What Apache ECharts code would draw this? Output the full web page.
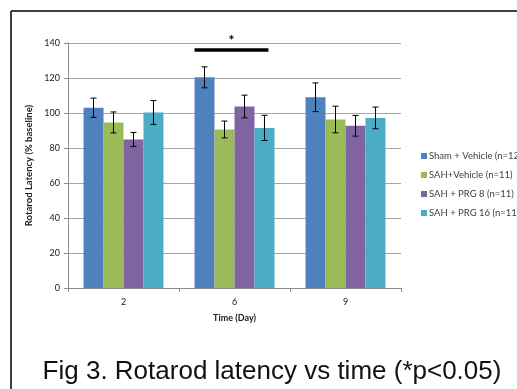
<!DOCTYPE html>
<html><head><meta charset="utf-8">
<script src="https://cdn.jsdelivr.net/npm/echarts@6/dist/echarts.min.js"></script>
<style>html,body{margin:0;padding:0;background:#fff}#c{width:517px;height:389px}</style>
</head><body><div id="c"></div>
<script>
const categories = ['2', '6', '9'];
const seriesNames = ['Sham + Vehicle (n=12)', 'SAH+Vehicle (n=11)', 'SAH + PRG 8 (n=11)', 'SAH + PRG 16 (n=11)'];
const shamVehicle = [103, 120.4, 109];
const sahVehicle = [94.6, 90.6, 96.3];
const sahPrg8 = [84.9, 103.7, 92.7];
const sahPrg16 = [100.3, 91.5, 97.2];
const shamErr = [5.5, 6, 8.2];
const sahVehErr = [6, 4.8, 7.6];
const prg8Err = [4, 6.5, 5.9];
const prg16Err = [6.8, 7.2, 6.2];
const colors = ['#4F81BD', '#9BBB59', '#8064A2', '#4BACC6'];
const yTicks = [0, 20, 40, 60, 80, 100, 120, 140];
const sigCategory = '6';
const sigLevel = 136;

const values = [shamVehicle, sahVehicle, sahPrg8, sahPrg16];
const errs = [shamErr, sahVehErr, prg8Err, prg16Err];
const gapRatio = 0.28;

const chart = echarts.init(document.getElementById('c'));
const series = [];
values.forEach((v, i) => {
  series.push({
    name: seriesNames[i], type: 'bar', data: v, barGap: 0, barCategoryGap: '28%',
    itemStyle: { color: colors[i] }
  });
});
values.forEach((v, i) => {
  series.push({
    type: 'custom', silent: true, z: 5,
    data: v.map((val, j) => [j, val - errs[i][j], val + errs[i][j]]),
    renderItem: function (params, api) {
      const bw = api.size([1, 0])[0];
      const barW = bw * (1 - gapRatio) / 4;
      const off = (i - 1.5) * barW;
      const lo = api.coord([api.value(0), api.value(1)]);
      const hi = api.coord([api.value(0), api.value(2)]);
      const x = lo[0] + off;
      const cap = 3;
      const st = { stroke: '#000', lineWidth: 1 };
      return { type: 'group', children: [
        { type: 'line', shape: { x1: x, y1: lo[1], x2: x, y2: hi[1] }, style: st },
        { type: 'line', shape: { x1: x - cap, y1: lo[1], x2: x + cap, y2: lo[1] }, style: st },
        { type: 'line', shape: { x1: x - cap, y1: hi[1], x2: x + cap, y2: hi[1] }, style: st }
      ]};
    }
  });
});
series.push({
  type: 'custom', silent: true, z: 6,
  data: [[categories.indexOf(sigCategory), sigLevel]],
  renderItem: function (params, api) {
    const bw = api.size([1, 0])[0];
    const barW = bw * (1 - gapRatio) / 4;
    const p = api.coord([api.value(0), api.value(1)]);
    const x1 = p[0] - 2 * barW, x2 = p[0] + 1.7 * barW;
    return { type: 'group', children: [
      { type: 'line', shape: { x1: x1, y1: p[1], x2: x2, y2: p[1] }, style: { stroke: '#000', lineWidth: 3.5 } },
      { type: 'text', style: { text: '*', x: (x1 + x2) / 2, y: p[1] - 3, align: 'center', verticalAlign: 'bottom', font: 'bold 14px Lato', fill: '#000' } }
    ]};
  }
});

chart.setOption({
  animation: false,
  color: colors,
  grid: { left: 68, right: 116, top: 43, bottom: 101, containLabel: false },
  legend: {
    orient: 'vertical', left: 416, top: 146, itemWidth: 6, itemHeight: 6, itemGap: 9,
    icon: 'rect', data: seriesNames,
    textStyle: { fontFamily: 'Lato', fontSize: 9.5, color: '#404040', padding: [0, 0, 0, -3] }
  },
  xAxis: {
    type: 'category', data: categories,
    name: 'Time (Day)', nameLocation: 'middle', nameGap: 26,
    nameTextStyle: { fontFamily: 'Lato', fontWeight: 'bold', fontSize: 9, color: '#202020' },
    axisLine: { lineStyle: { color: '#8c8c8c' } },
    axisTick: { show: true, length: 4, lineStyle: { color: '#8c8c8c' } },
    axisLabel: { fontFamily: 'Lato', fontSize: 9, color: '#202020', margin: 10 }
  },
  yAxis: {
    type: 'value', min: yTicks[0], max: yTicks[yTicks.length - 1], interval: 20,
    name: 'Rotarod Latency (% baseline)', nameLocation: 'middle', nameGap: 26,
    nameTextStyle: { fontFamily: 'Lato', fontWeight: 'bold', fontSize: 9.5, color: '#202020' },
    axisLine: { show: true, lineStyle: { color: '#8c8c8c' } },
    axisTick: { show: true, length: 4, inside: false, lineStyle: { color: '#8c8c8c' } },
    axisLabel: { fontFamily: 'Lato', fontSize: 9, color: '#202020', margin: 8 },
    splitLine: { lineStyle: { color: '#a6a6a6' } }
  },
  graphic: [
    { type: 'line', shape: { x1: 11, y1: 11, x2: 517, y2: 11 }, style: { stroke: '#000', lineWidth: 1.5 } },
    { type: 'line', shape: { x1: 11, y1: 11, x2: 11, y2: 389 }, style: { stroke: '#000', lineWidth: 1.5 } },
    { type: 'text', x: 272, y: 359, style: { text: 'Fig 3. Rotarod latency vs time (*p<0.05)', align: 'center', verticalAlign: 'top', font: '26px "Liberation Sans", Arial', fill: '#111' } }
  ],
  series: series
});
</script></body></html>
